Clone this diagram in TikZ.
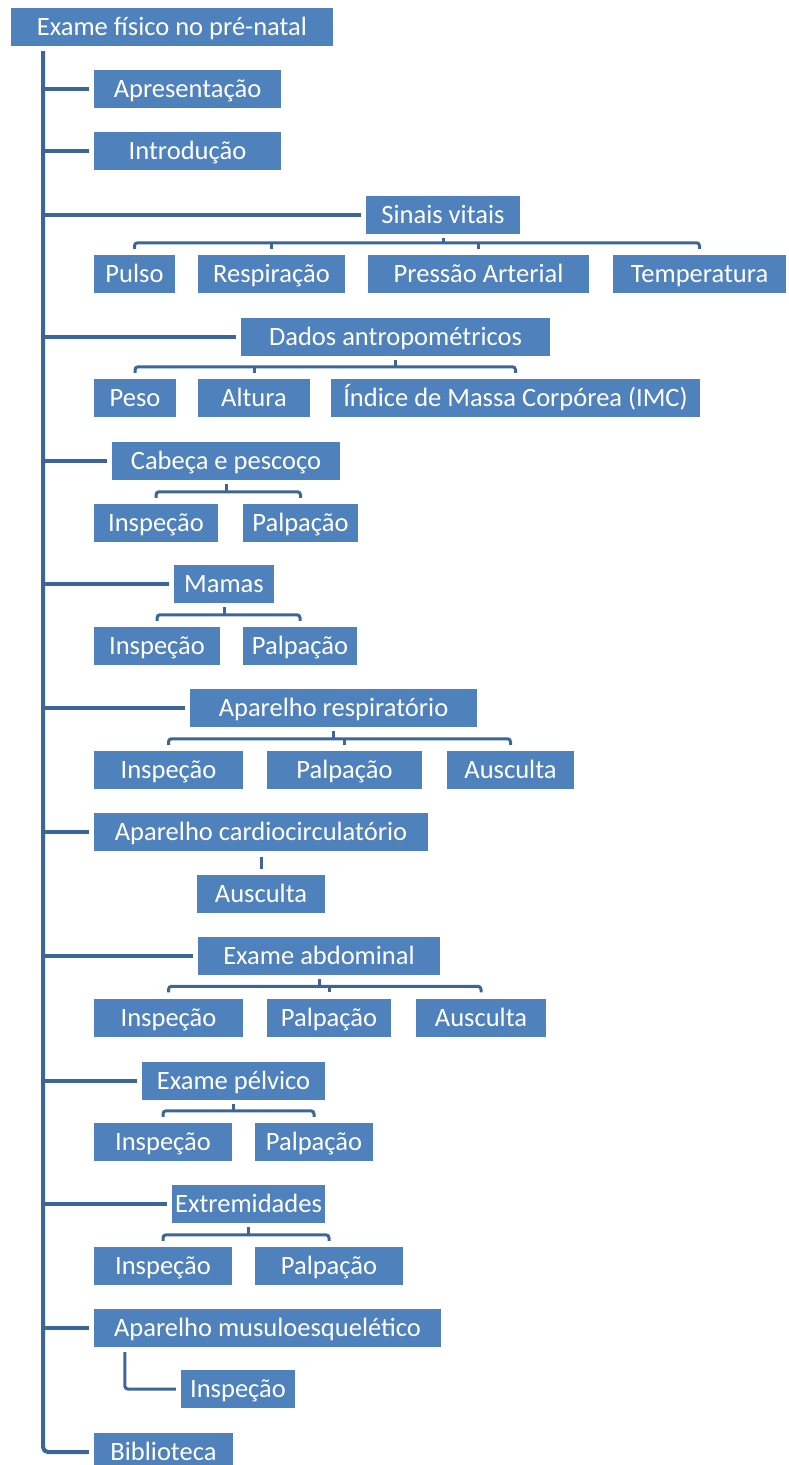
\documentclass[tikz,border=0pt]{standalone}
\usepackage{fontspec}
\setmainfont{Carlito}
\usepackage{tikz}
\usetikzlibrary{calc}

\definecolor{azul}{HTML}{4F81BD}
\definecolor{linha}{HTML}{3C6699}

\tikzset{
    caixa/.style={fill=azul, text=white, inner sep=0pt, minimum height=38,
        text height=20, text depth=3, font=\fontsize{26.5}{30}\selectfont},
    tronco/.style={draw=linha, line width=4pt},
    chave/.style={draw=linha, line width=3pt, rounded corners=3}
}

\begin{document}
\begin{tikzpicture}[x=1pt, y=-1pt]
        \useasboundingbox (0,0) rectangle (788,1465);
        \clip (0,0) rectangle (788,1465);

        % topo
        \node[caixa, minimum width=322] (raiz) at (172,26.5) {Exame físico no pré-natal};
        \node[caixa, minimum width=187] (apres) at (187.5,88.5) {Apresentação};
        \node[caixa, minimum width=187] (intro) at (187.5,151) {Introdução};

        % sinais vitais
        \node[caixa, minimum width=154] (sinais) at (443,214.5) {Sinais vitais};
        \node[caixa, minimum width=81] (pulso) at (134.5,274) {Pulso};
        \node[caixa, minimum width=147] (respir) at (271.5,274) {Respiração};
        \node[caixa, minimum width=221] (pressao) at (478.5,274) {Pressão Arterial};
        \node[caixa, minimum width=173] (temper) at (699.5,274) {Temperatura};

        % dados antropometricos
        \node[caixa, minimum width=309] (dados) at (395.5,337) {Dados antropométricos};
        \node[caixa, minimum width=82] (peso) at (135,398) {Peso};
        \node[caixa, minimum width=112] (altura) at (254,398) {Altura};
        \node[caixa, minimum width=369] (imc) at (515.5,398) {Índice de Massa Corpórea (IMC)};

        % cabeca e pescoco
        \node[caixa, minimum width=228] (cabeca) at (226,460.5) {Cabeça e pescoço};
        \node[caixa, minimum width=124] (cabInsp) at (156,523) {Inspeção};
        \node[caixa, minimum width=115] (cabPalp) at (300.5,523) {Palpação};

        % mamas
        \node[caixa, minimum width=100] (mamas) at (224,584) {Mamas};
        \node[caixa, minimum width=126] (mamInsp) at (157,646) {Inspeção};
        \node[caixa, minimum width=114] (mamPalp) at (300,646) {Palpação};

        % aparelho respiratorio
        \node[caixa, minimum width=287] (resp) at (333.5,708) {Aparelho respiratório};
        \node[caixa, minimum width=149] (respInsp) at (168.5,770) {Inspeção};
        \node[caixa, minimum width=155] (respPalp) at (344.5,770) {Palpação};
        \node[caixa, minimum width=127] (respAusc) at (510.5,770) {Ausculta};

        % aparelho cardiocirculatorio
        \node[caixa, minimum width=334] (cardio) at (261,832) {Aparelho cardiocirculatório};
        \node[caixa, minimum width=128] (cardAusc) at (261,894) {Ausculta};

        % exame abdominal
        \node[caixa, minimum width=242] (abdom) at (319,956) {Exame abdominal};
        \node[caixa, minimum width=149] (abdInsp) at (168.5,1017.5) {Inspeção};
        \node[caixa, minimum width=124] (abdPalp) at (329,1017.5) {Palpação};
        \node[caixa, minimum width=130] (abdAusc) at (481,1017.5) {Ausculta};

        % exame pelvico
        \node[caixa, minimum width=183] (pelv) at (233.5,1080.5) {Exame pélvico};
        \node[caixa, minimum width=138] (pelvInsp) at (163,1142) {Inspeção};
        \node[caixa, minimum width=118] (pelvPalp) at (314,1142) {Palpação};

        % extremidades
        \node[caixa, minimum width=153] (extr) at (248.5,1204) {Extremidades};
        \node[caixa, minimum width=138] (extInsp) at (163,1266) {Inspeção};
        \node[caixa, minimum width=148] (extPalp) at (329,1266) {Palpação};

        % aparelho musculoesqueletico e biblioteca
        \node[caixa, minimum width=347] (musc) at (267.5,1328) {Aparelho musuloesquelético};
        \node[caixa, minimum width=114] (muscInsp) at (238,1389) {Inspeção};
        \node[caixa, minimum width=139] (bib) at (163.5,1452) {Biblioteca};

        % eixo principal
        \coordinate (eixo) at (43,51);
        \draw[tronco, rounded corners=5] (eixo) |- ($(bib.west)+(-5,0)$);
        \foreach \n in {apres,intro,sinais,dados,cabeca,mamas,resp,cardio,abdom,pelv,extr,musc}
            \draw[tronco] (eixo |- \n.west) -- ($(\n.west)+(-5,0)$);

        % chaves: pai, primeiro filho, ultimo filho
        \foreach \p/\a/\b in {sinais/pulso/temper, dados/peso/imc, cabeca/cabInsp/cabPalp,
                mamas/mamInsp/mamPalp, resp/respInsp/respAusc, abdom/abdInsp/abdAusc,
                pelv/pelvInsp/pelvPalp, extr/extInsp/extPalp}
        {
            \draw[chave] ($(\a.north)+(0,-6)$) |- ($(\b.north)+(0,-12)$) -- ($(\b.north)+(0,-6)$);
            \draw[chave] ($(\p.south)+(0,4)$) -- ($(\p.south |- \a.north)+(0,-12)$);
        }

        % filhos do meio
        \foreach \n in {respir,pressao,altura,respPalp,abdPalp}
            \draw[chave] ($(\n.north)+(0,-6)$) -- ++(0,-6);

        % ligacoes simples
        \draw[chave] ($(cardio.south -| cardAusc.north)+(0,6)$) -- ($(cardAusc.north)+(0,-6)$);
        \draw[chave] ($(musc.south west)+(31,5)$) |- ($(muscInsp.west)+(-5,0)$);
    \end{tikzpicture}
\end{document}
